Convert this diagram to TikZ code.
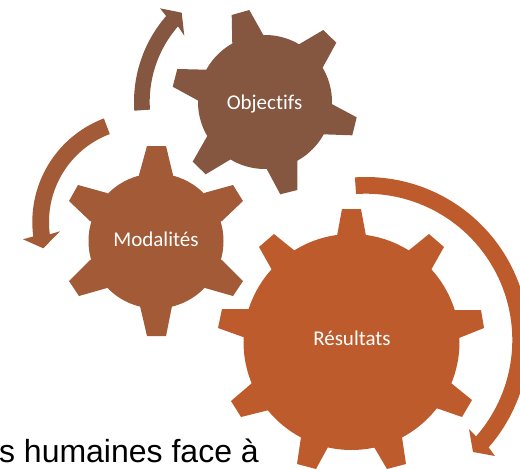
\documentclass[tikz,border=0pt]{standalone}
\usepackage{fontspec}
\setmainfont[Ligatures={NoCommon}]{Carlito}
\newfontfamily\bodyfont{Liberation Sans}
\definecolor{objcol}{HTML}{855741}
\definecolor{modcol}{HTML}{A25A37}
\definecolor{rescol}{HTML}{BD5B2C}
\tikzset{
  gearlabel/.style={text=white,font=\fontsize{21}{25}\selectfont,inner sep=0pt,anchor=base},
  pagetext/.style={text=black,font=\bodyfont\fontsize{32}{38}\selectfont,inner sep=0pt,anchor=base east}
}
% centre x, centre y, inner radius, outer radius, start angle, end angle, three head points, colour
\newcommand{\arcarrow}[9]{%
  \fill[#9] plot[domain=#5:#6,samples=60,smooth] ({#1+#4*cos(\x)},{#2+#4*sin(\x)})
    -- #7 -- #8
    -- plot[domain=#6:#5,samples=60,smooth] ({#1+#3*cos(\x)},{#2+#3*sin(\x)}) -- cycle;}
\begin{document}
\begin{tikzpicture}[x=1pt,y=-1pt]
\useasboundingbox (0,0) rectangle (520,469);
\clip (0,0) rectangle (520,469);
% page text
\node[pagetext] (body) at (259,462) {s humaines face à};
% Objectifs gear
\fill[objcol] (265,102) circle[radius=67];
\fill[objcol] (265,102) -- (232.3,44.3) -- (231.7,15) -- (249.3,10) -- (263.3,35) -- cycle;
\fill[objcol] (265,102) -- (299,44.3) -- (323.3,30) -- (336.3,42.7) -- (322.3,68.3) -- cycle;
\fill[objcol] (265,102) -- (331.7,104) -- (356.7,117.3) -- (352.3,135.3) -- (322.7,134.3) -- cycle;
\fill[objcol] (265,102) -- (297.3,160) -- (297.3,190) -- (280.3,194.3) -- (266.7,169) -- cycle;
\fill[objcol] (265,102) -- (230.7,159.3) -- (205.7,174.3) -- (192.7,161.7) -- (207.3,136) -- cycle;
\fill[objcol] (265,102) -- (198.3,100.7) -- (172.7,86.7) -- (177.3,69) -- (206.7,69.7) -- cycle;
% Modalites gear
\fill[modcol] (156,241) circle[radius=67.5];
\fill[modcol] (156,241) -- (139,175) -- (147,146) -- (166,146) -- (173,175) -- cycle;
\fill[modcol] (156,241) -- (204,193) -- (233,185) -- (243,201) -- (222,221) -- cycle;
\fill[modcol] (156,241) -- (222,260) -- (243,281) -- (233,296) -- (205,288) -- cycle;
\fill[modcol] (156,241) -- (172,306) -- (166,336) -- (147,336) -- (140,306) -- cycle;
\fill[modcol] (156,241) -- (107,288) -- (79,296) -- (69,281) -- (90,260) -- cycle;
\fill[modcol] (156,241) -- (90,221) -- (69,201) -- (78,185) -- (107,193) -- cycle;
% Resultats gear
\fill[rescol] (351.5,342) circle[radius=108];
\fill[rescol] (351.5,342) -- (337,236) -- (342,209) -- (361,209) -- (366,236) -- cycle;
\fill[rescol] (351.5,342) -- (408,251) -- (429,234) -- (444,247) -- (431,270) -- cycle;
\fill[rescol] (351.5,342) -- (453,310) -- (481,310) -- (484,328) -- (459,338) -- cycle;
\fill[rescol] (351.5,342) -- (451,383) -- (472,400) -- (462,417) -- (436,408) -- cycle;
\fill[rescol] (351.5,342) -- (402,437) -- (406,464) -- (387,469) -- (374,447) -- cycle;
\fill[rescol] (351.5,342) -- (328,447) -- (316,469) -- (297,464) -- (301,437) -- cycle;
\fill[rescol] (351.5,342) -- (269,410) -- (241,417) -- (231,401) -- (252,383) -- cycle;
\fill[rescol] (351.5,342) -- (243,337) -- (218,328) -- (222,309) -- (249,309) -- cycle;
\fill[rescol] (351.5,342) -- (272,270) -- (259,247) -- (274,234) -- (295,251) -- cycle;
% circular arrows
\arcarrow{265}{102}{115.3}{131}{176.2}{221}{(160,8.3)}{(181.7,12.7) -- (184.3,35.7)}{objcol}
\arcarrow{143}{222}{94}{110.7}{-110.7}{-187.5}{(23,239.3)}{(43.3,248.3) -- (60,231.3)}{modcol}
\arcarrow{366}{340}{146.3}{163}{-93.9}{41.2}{(495,456)}{(473,452) -- (469,429)}{rescol}
% labels
\node[gearlabel] (objectifs) at (264.5,109) {Objectifs};
\node[gearlabel] (modalites) at (156,246.7) {Modalités};
\node[gearlabel] (resultats) at (352,345.7) {Résultats};
\end{tikzpicture}
\end{document}
